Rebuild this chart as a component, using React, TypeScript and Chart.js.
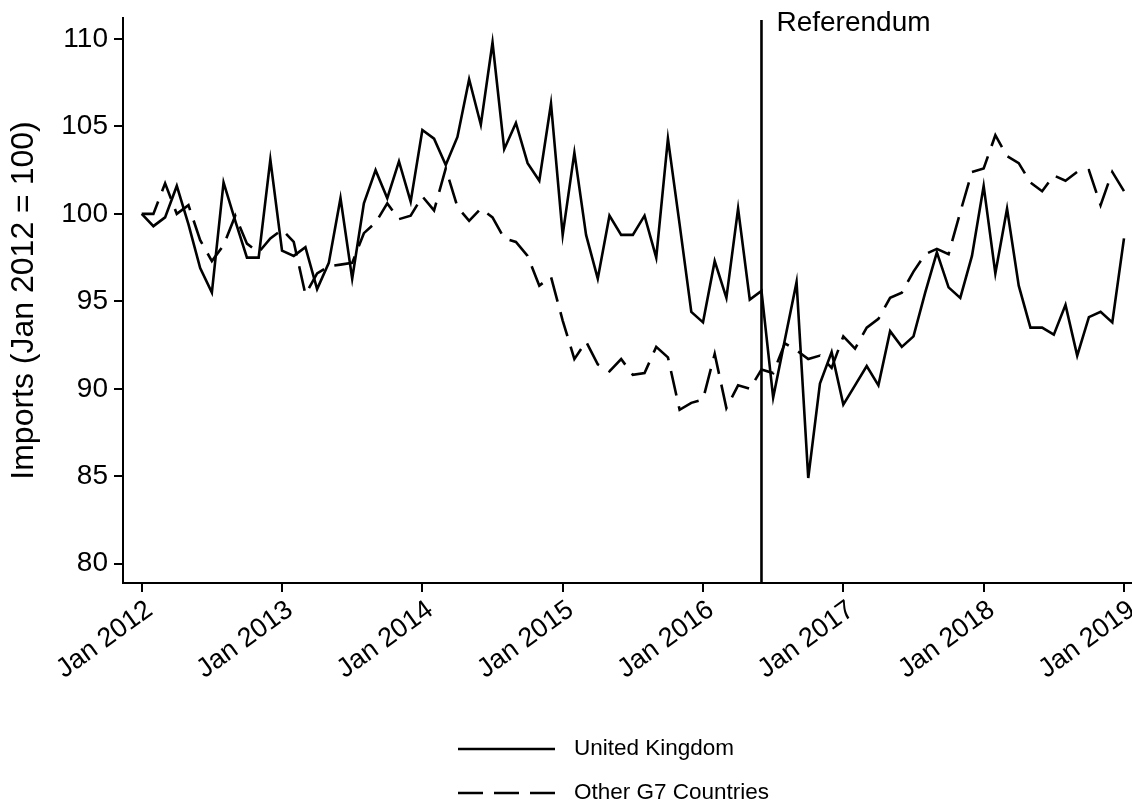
import { useEffect, useRef } from 'react';
import { Chart, registerables } from 'chart.js';

Chart.register(...registerables);

const FONT = '"Liberation Sans", Arial, Helvetica, sans-serif';

// Monthly import index, Jan 2012 = 100 (month 0 = Jan 2012, month 84 = Jan 2019)
const ukImports = [
  100.0, 99.3, 99.8, 101.6, 99.4, 96.9, 95.5, 101.8, 99.6, 97.5, 97.5, 103.1,
  97.9, 97.6, 98.1, 95.7, 97.2, 100.9, 96.3, 100.6, 102.5, 100.9, 103.0, 100.7,
  104.8, 104.3, 102.8, 104.4, 107.7, 105.1, 109.8, 103.7, 105.2, 102.9, 101.9, 106.3,
  98.8, 103.5, 98.8, 96.3, 99.9, 98.8, 98.8, 99.9, 97.5, 104.3, 99.4, 94.4,
  93.8, 97.3, 95.2, 100.3, 95.1, 95.6, 89.5, 92.8, 96.1, 84.9, 90.3, 92.1,
  89.1, 90.2, 91.3, 90.2, 93.3, 92.4, 93.0, 95.5, 97.8, 95.8, 95.2, 97.6,
  101.6, 96.6, 100.3, 95.9, 93.5, 93.5, 93.1, 94.8, 91.9, 94.1, 94.4, 93.8,
  98.6,
];

const g7Imports = [
  100.0, 100.0, 101.75, 100.0, 100.5, 98.5, 97.3, 98.2, 99.9, 98.3, 97.8, 98.6,
  99.1, 98.4, 95.4, 96.6, 97.0, 97.1, 97.2, 98.9, 99.5, 100.6, 99.7, 99.9,
  101.0, 100.2, 102.6, 100.4, 99.6, 100.3, 99.8, 98.6, 98.4, 97.6, 95.9, 96.4,
  93.9, 91.7, 92.7, 91.4, 91.0, 91.7, 90.8, 90.9, 92.4, 91.8, 88.8, 89.2,
  89.4, 92.0, 88.9, 90.2, 90.0, 91.1, 90.9, 92.6, 92.2, 91.7, 91.9, 91.2,
  93.0, 92.3, 93.5, 94.0, 95.2, 95.5, 96.7, 97.7, 98.0, 97.7, 100.1, 102.4,
  102.6, 104.5, 103.3, 102.9, 101.8, 101.3, 102.2, 101.9, 102.4, 102.5, 100.5, 102.4,
  101.3,
];

const tickMonths = [0, 12, 24, 36, 48, 60, 72, 84];
const tickLabels = ['Jan 2012', 'Jan 2013', 'Jan 2014', 'Jan 2015', 'Jan 2016', 'Jan 2017', 'Jan 2018', 'Jan 2019'];
const yTicks = [80, 85, 90, 95, 100, 105, 110];

// June 2016
const referendumMonth = 53;
const referendumLabel = 'Referendum';

const seriesLabels = ['United Kingdom', 'Other G7 Countries'];
const dashPattern = [25, 11];
const LINE_W = 2.6;

const referendumPlugin = {
  id: 'referendumLine',
  afterDatasetsDraw(chart: any) {
    const { ctx, chartArea, scales } = chart;
    const x = scales.x.getPixelForValue(referendumMonth);
    ctx.save();
    ctx.strokeStyle = '#000';
    ctx.lineWidth = LINE_W;
    ctx.setLineDash([]);
    ctx.beginPath();
    ctx.moveTo(x, chartArea.top + 2);
    ctx.lineTo(x, chartArea.bottom);
    ctx.stroke();
    ctx.fillStyle = '#000';
    ctx.font = `28px ${FONT}`;
    ctx.textAlign = 'left';
    ctx.textBaseline = 'middle';
    ctx.fillText(referendumLabel, x + 15, chartArea.top + 5);
    ctx.restore();
  },
};

const stackedLegendPlugin = {
  id: 'stackedLegend',
  afterDraw(chart: any) {
    const { ctx } = chart;
    const rows = [749, 793];
    ctx.save();
    chart.data.datasets.forEach((ds: any, i: number) => {
      const y = rows[i];
      ctx.strokeStyle = '#000';
      ctx.lineWidth = LINE_W;
      ctx.setLineDash(ds.borderDash || []);
      ctx.beginPath();
      ctx.moveTo(458, y);
      ctx.lineTo(555, y);
      ctx.stroke();
      ctx.setLineDash([]);
      ctx.fillStyle = '#000';
      ctx.font = `22.5px ${FONT}`;
      ctx.textAlign = 'left';
      ctx.textBaseline = 'middle';
      ctx.fillText(ds.label, 574, y);
    });
    ctx.restore();
  },
};

export default function App() {
  const ref = useRef<HTMLCanvasElement>(null);

  useEffect(() => {
    document.body.style.margin = '0';
    const canvas = ref.current;
    if (!canvas) return;

    const chart = new Chart(canvas, {
      type: 'line',
      data: {
        datasets: [
          {
            label: seriesLabels[0],
            data: ukImports.map((v, i) => ({ x: i, y: v })),
            borderColor: '#000',
            borderWidth: LINE_W,
            borderDash: [],
            pointRadius: 0,
            tension: 0,
            fill: false,
          },
          {
            label: seriesLabels[1],
            data: g7Imports.map((v, i) => ({ x: i, y: v })),
            borderColor: '#000',
            borderWidth: LINE_W,
            borderDash: dashPattern,
            pointRadius: 0,
            tension: 0,
            fill: false,
          },
        ],
      },
      options: {
        responsive: false,
        animation: false,
        layout: { padding: { top: 18, right: 1, left: 0, bottom: 0 } },
        plugins: {
          legend: { display: false },
          tooltip: { enabled: false },
        },
        scales: {
          x: {
            type: 'linear',
            min: -1.6,
            max: 84.6,
            afterBuildTicks: (s: any) => {
              s.ticks = tickMonths.map((v) => ({ value: v }));
            },
            afterFit: (s: any) => {
              s.height = 225;
              s.paddingLeft = 0;
              s.paddingRight = 0;
            },
            ticks: {
              autoSkip: false,
              minRotation: 36,
              maxRotation: 36,
              padding: 2,
              labelOffset: 8,
              color: '#000',
              font: { family: FONT, size: 27 },
              callback: (v: any) => {
                const k = tickMonths.indexOf(Number(v));
                return k >= 0 ? tickLabels[k] : '';
              },
            },
            grid: {
              display: true,
              drawOnChartArea: false,
              drawTicks: true,
              tickLength: 9,
              color: '#000',
              lineWidth: 2,
            },
            border: { display: true, color: '#000', width: 2 },
          },
          y: {
            type: 'linear',
            min: 78.9,
            max: 111.2,
            afterBuildTicks: (s: any) => {
              s.ticks = yTicks.map((v) => ({ value: v }));
            },
            afterFit: (s: any) => {
              s.width = 123;
              s.paddingTop = 0;
              s.paddingBottom = 0;
            },
            ticks: {
              padding: 6,
              color: '#000',
              font: { family: FONT, size: 28 },
            },
            grid: {
              display: true,
              drawOnChartArea: false,
              drawTicks: true,
              tickLength: 9,
              color: '#000',
              lineWidth: 2,
            },
            border: { display: true, color: '#000', width: 2 },
            title: {
              display: true,
              text: 'Imports (Jan 2012 = 100)',
              color: '#000',
              font: { family: FONT, size: 32 },
              padding: { top: 5, bottom: 0 },
            },
          },
        },
      },
      plugins: [referendumPlugin, stackedLegendPlugin],
    });

    return () => chart.destroy();
  }, []);

  return <canvas ref={ref} width={1132} height={808} style={{ display: 'block' }} />;
}
